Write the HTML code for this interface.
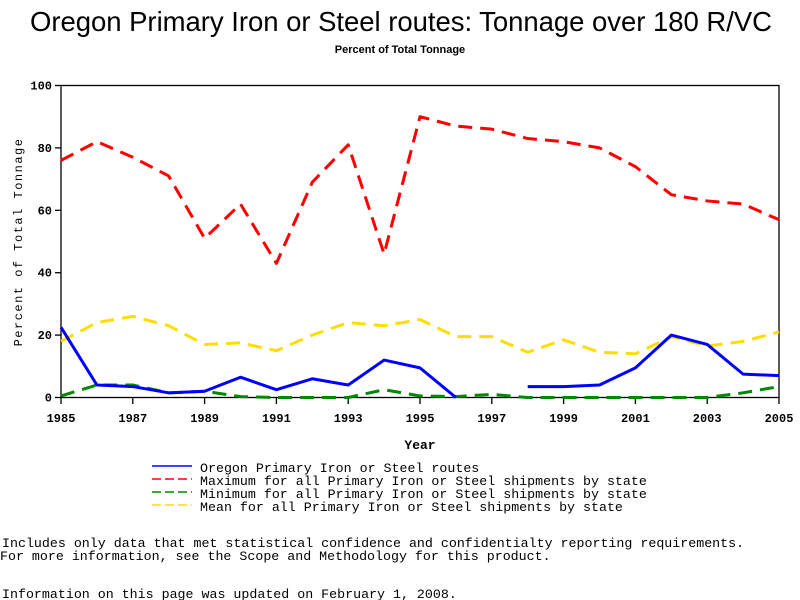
<!DOCTYPE html>
<html><head><meta charset="utf-8"><style>
body{margin:0;background:#fff}
svg{display:block}
text{font-family:"Liberation Mono",monospace}
</style></head><body>
<svg id="chart" width="800" height="600">
<text x="401" y="31" text-anchor="middle" style="font-family:'Liberation Sans',sans-serif" font-size="27.5" textLength="742">Oregon Primary Iron or Steel routes: Tonnage over 180 R/VC</text>
<text x="400" y="53" text-anchor="middle" style="font-family:'Liberation Sans',sans-serif" font-size="11" font-weight="bold">Percent of Total Tonnage</text>
<rect x="61" y="85.5" width="718" height="312" fill="none" stroke="#000" stroke-width="1.3"/>
<g id="axes"></g>
<g id="series"></g>
<text x="420" y="449" text-anchor="middle" font-size="13" font-weight="bold">Year</text>
<text transform="translate(22,242) rotate(-90)" text-anchor="middle" font-size="12" letter-spacing="1.5">Percent of Total Tonnage</text>
<g>
<line x1="152" y1="466" x2="192" y2="466" stroke="#00f" stroke-width="1.5"/>
<text x="200" y="472" font-size="13.3">Oregon Primary Iron or Steel routes</text>
<line x1="152" y1="479" x2="192" y2="479" stroke="#f00" stroke-width="1.5" stroke-dasharray="9,4"/>
<text x="200" y="485" font-size="13.3">Maximum for all Primary Iron or Steel shipments by state</text>
<line x1="152" y1="492" x2="192" y2="492" stroke="#080" stroke-width="1.5" stroke-dasharray="9,4"/>
<text x="200" y="498" font-size="13.3">Minimum for all Primary Iron or Steel shipments by state</text>
<line x1="152" y1="505" x2="192" y2="505" stroke="#fd0" stroke-width="1.5" stroke-dasharray="9,4"/>
<text x="200" y="511" font-size="13.3">Mean for all Primary Iron or Steel shipments by state</text>
</g>
<text x="2" y="547" font-size="13.3">Includes only data that met statistical confidence and confidentialty reporting requirements.</text>
<text x="0" y="560" font-size="13.3">For more information, see the Scope and Methodology for this product.</text>
<text x="2" y="598" font-size="13.3">Information on this page was updated on February 1, 2008.</text>
</svg>
<script>
const years=[1985,1986,1987,1988,1989,1990,1991,1992,1993,1994,1995,1996,1997,1998,1999,2000,2001,2002,2003,2004,2005];
const oregonValues=[22.5,4,3.5,1.5,2,6.5,2.5,6,4,12,9.5,0,null,3.5,3.5,4,9.5,20,17,7.5,7];
const maxValues=[76,82,77,71,51,62,43,69,81,46,90,87,86,83,82,80,74,65,63,62,57];
const minValues=[0.5,4,4,1.5,2,0.3,0,0,0,2.5,0.5,0.3,1,0,0,0,0,0,0,1.5,3.5];
const meanValues=[18,24,26,23,17,17.5,15,20,24,23,25,19.5,19.5,14.5,18.5,14.5,14,19.5,16.5,18,21];
const xTicks=[1985,1987,1989,1991,1993,1995,1997,1999,2001,2003,2005];
const yTicks=[0,20,40,60,80,100];
const NS="http://www.w3.org/2000/svg";
const X=v=>61+(v-1985)*(718/20);
const Y=v=>397.5-v*3.12;
const axes=document.getElementById('axes'),ser=document.getElementById('series');
function mk(t,a,p){const e=document.createElementNS(NS,t);for(const k in a)e.setAttribute(k,a[k]);p.appendChild(e);return e;}
xTicks.forEach(t=>{
 mk('line',{x1:X(t),x2:X(t),y1:397.5,y2:404,stroke:'#000','stroke-width':1.3},axes);
 const tx=mk('text',{x:X(t),y:422,'text-anchor':'middle','font-size':12,'font-weight':'bold'},axes);
 tx.textContent=t;
 
 
});
yTicks.forEach(t=>{
 mk('line',{x1:55,x2:61,y1:Y(t),y2:Y(t),stroke:'#000','stroke-width':1.3},axes);
 const tx=mk('text',{x:52,y:Y(t)+4,'text-anchor':'end','font-size':12,'font-weight':'bold'},axes);
 tx.textContent=t;
 
 
});
function draw(vals,color,dash,name){
 let d='',pen=false;
 vals.forEach((v,i)=>{if(v===null){pen=false;return;}d+=(pen?'L':'M')+X(years[i])+' '+Y(v)+' ';pen=true;});
 const p=mk('path',{d:d,fill:'none',stroke:color,'stroke-width':3,'stroke-linejoin':'round'},ser);
 if(dash)p.setAttribute('stroke-dasharray',dash);
 
 
}
draw(meanValues,'#fd0','14,8','mean-line');
draw(minValues,'#080','14,8','minimum-line');
draw(maxValues,'#f00','14,8','maximum-line');
draw(oregonValues,'#00f',null,'oregon-line');
</script>
</body></html>
